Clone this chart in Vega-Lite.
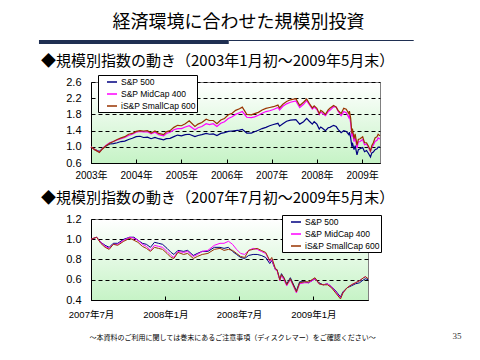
{
  "$schema": "https://vega.github.io/schema/vega-lite/v6.json",
  "padding": {"left": 36, "top": 14, "right": 0, "bottom": 0},
  "background": "white",
  "spacing": 9,
  "resolve": {"scale": {"color": "independent"}, "legend": {"color": "independent"}},
  "config": {
    "font": "Liberation Sans, Noto Sans CJK JP",
    "view": {"stroke": "#808080", "strokeWidth": 1},
    "axis": {"domainColor": "black", "labelColor": "black", "tickColor": "black", "labelFont": "Liberation Sans, Noto Sans CJK JP"},
    "title": {"font": "Noto Sans CJK JP", "color": "black", "fontWeight": "normal"},
    "legend": {"labelFont": "Liberation Sans", "labelColor": "black"}
  },
  "vconcat": [
    {
      "width": 289,
      "height": 4,
      "view": {"stroke": null},
      "title": {"text": "経済環境に合わせた規模別投資", "fontSize": 18, "anchor": "middle", "frame": "group", "offset": 4, "dx": 3},
      "data": {"values": [{"k": 1}]},
      "layer": [
        {
          "mark": {"type": "rule", "color": "#1f2f52", "strokeWidth": 4},
          "encoding": {
            "x": {"datum": -54, "type": "quantitative", "scale": {"domain": [0, 289]}, "axis": null},
            "x2": {"datum": 143},
            "y": {"datum": -2, "type": "quantitative", "scale": {"domain": [0, 4]}, "axis": null}
          }
        },
        {
          "mark": {"type": "rule", "color": "#1f2f52", "strokeWidth": 1},
          "encoding": {
            "x": {"datum": 143, "type": "quantitative", "axis": null},
            "x2": {"datum": 335},
            "y": {"datum": -0.5, "type": "quantitative", "axis": null}
          }
        }
      ]
    },
    {
      "width": 289,
      "height": 81,
      "view": {"stroke": "#808080", "fill": {"gradient": "linear", "x1": 0, "y1": 0, "x2": 0, "y2": 1, "stops": [{"offset": 0, "color": "#ffffff"}, {"offset": 1, "color": "#c6f3c6"}]}},
      "title": {"text": "◆規模別指数の動き（2003年1月初～2009年5月末）", "fontSize": 15, "anchor": "start", "frame": "group", "dx": -50, "offset": 5.5},
      "data": {"values": [
        {"date": "2003-01-01", "S&P 500": 1.00, "S&P MidCap 400": 1.00, "iS&P SmallCap 600": 1.00},
        {"date": "2003-02-01", "S&P 500": 0.93, "S&P MidCap 400": 0.93, "iS&P SmallCap 600": 0.93},
        {"date": "2003-03-10", "S&P 500": 0.88, "S&P MidCap 400": 0.87, "iS&P SmallCap 600": 0.86},
        {"date": "2003-04-01", "S&P 500": 0.95, "S&P MidCap 400": 0.95, "iS&P SmallCap 600": 0.94},
        {"date": "2003-05-01", "S&P 500": 1.02, "S&P MidCap 400": 1.03, "iS&P SmallCap 600": 1.02},
        {"date": "2003-06-01", "S&P 500": 1.07, "S&P MidCap 400": 1.10, "iS&P SmallCap 600": 1.09},
        {"date": "2003-07-01", "S&P 500": 1.08, "S&P MidCap 400": 1.13, "iS&P SmallCap 600": 1.13},
        {"date": "2003-08-01", "S&P 500": 1.10, "S&P MidCap 400": 1.17, "iS&P SmallCap 600": 1.18},
        {"date": "2003-09-01", "S&P 500": 1.13, "S&P MidCap 400": 1.20, "iS&P SmallCap 600": 1.22},
        {"date": "2003-10-01", "S&P 500": 1.14, "S&P MidCap 400": 1.23, "iS&P SmallCap 600": 1.25},
        {"date": "2003-11-01", "S&P 500": 1.18, "S&P MidCap 400": 1.28, "iS&P SmallCap 600": 1.31},
        {"date": "2003-12-01", "S&P 500": 1.21, "S&P MidCap 400": 1.31, "iS&P SmallCap 600": 1.33},
        {"date": "2004-01-01", "S&P 500": 1.25, "S&P MidCap 400": 1.36, "iS&P SmallCap 600": 1.38},
        {"date": "2004-02-01", "S&P 500": 1.26, "S&P MidCap 400": 1.38, "iS&P SmallCap 600": 1.40},
        {"date": "2004-03-01", "S&P 500": 1.23, "S&P MidCap 400": 1.37, "iS&P SmallCap 600": 1.39},
        {"date": "2004-04-01", "S&P 500": 1.24, "S&P MidCap 400": 1.37, "iS&P SmallCap 600": 1.40},
        {"date": "2004-05-01", "S&P 500": 1.20, "S&P MidCap 400": 1.32, "iS&P SmallCap 600": 1.34},
        {"date": "2004-06-01", "S&P 500": 1.23, "S&P MidCap 400": 1.36, "iS&P SmallCap 600": 1.39},
        {"date": "2004-07-01", "S&P 500": 1.20, "S&P MidCap 400": 1.30, "iS&P SmallCap 600": 1.33},
        {"date": "2004-08-10", "S&P 500": 1.17, "S&P MidCap 400": 1.27, "iS&P SmallCap 600": 1.30},
        {"date": "2004-09-01", "S&P 500": 1.20, "S&P MidCap 400": 1.33, "iS&P SmallCap 600": 1.37},
        {"date": "2004-10-01", "S&P 500": 1.21, "S&P MidCap 400": 1.36, "iS&P SmallCap 600": 1.40},
        {"date": "2004-11-01", "S&P 500": 1.25, "S&P MidCap 400": 1.42, "iS&P SmallCap 600": 1.48},
        {"date": "2004-12-01", "S&P 500": 1.29, "S&P MidCap 400": 1.45, "iS&P SmallCap 600": 1.53},
        {"date": "2005-01-01", "S&P 500": 1.27, "S&P MidCap 400": 1.45, "iS&P SmallCap 600": 1.52},
        {"date": "2005-02-01", "S&P 500": 1.30, "S&P MidCap 400": 1.49, "iS&P SmallCap 600": 1.57},
        {"date": "2005-03-05", "S&P 500": 1.31, "S&P MidCap 400": 1.52, "iS&P SmallCap 600": 1.64},
        {"date": "2005-04-20", "S&P 500": 1.25, "S&P MidCap 400": 1.42, "iS&P SmallCap 600": 1.50},
        {"date": "2005-05-15", "S&P 500": 1.28, "S&P MidCap 400": 1.47, "iS&P SmallCap 600": 1.56},
        {"date": "2005-06-15", "S&P 500": 1.30, "S&P MidCap 400": 1.50, "iS&P SmallCap 600": 1.60},
        {"date": "2005-07-20", "S&P 500": 1.33, "S&P MidCap 400": 1.57, "iS&P SmallCap 600": 1.68},
        {"date": "2005-08-15", "S&P 500": 1.31, "S&P MidCap 400": 1.55, "iS&P SmallCap 600": 1.65},
        {"date": "2005-09-15", "S&P 500": 1.32, "S&P MidCap 400": 1.57, "iS&P SmallCap 600": 1.65},
        {"date": "2005-10-15", "S&P 500": 1.28, "S&P MidCap 400": 1.50, "iS&P SmallCap 600": 1.57},
        {"date": "2005-11-15", "S&P 500": 1.33, "S&P MidCap 400": 1.58, "iS&P SmallCap 600": 1.66},
        {"date": "2005-12-15", "S&P 500": 1.35, "S&P MidCap 400": 1.62, "iS&P SmallCap 600": 1.70},
        {"date": "2006-01-15", "S&P 500": 1.38, "S&P MidCap 400": 1.70, "iS&P SmallCap 600": 1.79},
        {"date": "2006-02-15", "S&P 500": 1.39, "S&P MidCap 400": 1.74, "iS&P SmallCap 600": 1.83},
        {"date": "2006-03-15", "S&P 500": 1.40, "S&P MidCap 400": 1.80, "iS&P SmallCap 600": 1.90},
        {"date": "2006-04-15", "S&P 500": 1.41, "S&P MidCap 400": 1.84, "iS&P SmallCap 600": 1.94},
        {"date": "2006-05-08", "S&P 500": 1.43, "S&P MidCap 400": 1.87, "iS&P SmallCap 600": 1.98},
        {"date": "2006-06-13", "S&P 500": 1.34, "S&P MidCap 400": 1.73, "iS&P SmallCap 600": 1.80},
        {"date": "2006-07-20", "S&P 500": 1.34, "S&P MidCap 400": 1.72, "iS&P SmallCap 600": 1.79},
        {"date": "2006-08-15", "S&P 500": 1.37, "S&P MidCap 400": 1.74, "iS&P SmallCap 600": 1.82},
        {"date": "2006-09-15", "S&P 500": 1.41, "S&P MidCap 400": 1.78, "iS&P SmallCap 600": 1.85},
        {"date": "2006-10-15", "S&P 500": 1.45, "S&P MidCap 400": 1.83, "iS&P SmallCap 600": 1.91},
        {"date": "2006-11-15", "S&P 500": 1.48, "S&P MidCap 400": 1.87, "iS&P SmallCap 600": 1.95},
        {"date": "2006-12-15", "S&P 500": 1.52, "S&P MidCap 400": 1.89, "iS&P SmallCap 600": 1.97},
        {"date": "2007-01-15", "S&P 500": 1.55, "S&P MidCap 400": 1.92, "iS&P SmallCap 600": 1.99},
        {"date": "2007-02-20", "S&P 500": 1.58, "S&P MidCap 400": 1.97, "iS&P SmallCap 600": 2.03},
        {"date": "2007-03-05", "S&P 500": 1.51, "S&P MidCap 400": 1.91, "iS&P SmallCap 600": 1.96},
        {"date": "2007-04-01", "S&P 500": 1.57, "S&P MidCap 400": 2.00, "iS&P SmallCap 600": 2.05},
        {"date": "2007-05-01", "S&P 500": 1.63, "S&P MidCap 400": 2.06, "iS&P SmallCap 600": 2.12},
        {"date": "2007-06-01", "S&P 500": 1.66, "S&P MidCap 400": 2.10, "iS&P SmallCap 600": 2.16},
        {"date": "2007-07-15", "S&P 500": 1.67, "S&P MidCap 400": 2.13, "iS&P SmallCap 600": 2.19},
        {"date": "2007-08-15", "S&P 500": 1.56, "S&P MidCap 400": 1.97, "iS&P SmallCap 600": 2.02},
        {"date": "2007-09-15", "S&P 500": 1.62, "S&P MidCap 400": 2.05, "iS&P SmallCap 600": 2.10},
        {"date": "2007-10-10", "S&P 500": 1.70, "S&P MidCap 400": 2.14, "iS&P SmallCap 600": 2.18},
        {"date": "2007-11-01", "S&P 500": 1.63, "S&P MidCap 400": 2.04, "iS&P SmallCap 600": 2.07},
        {"date": "2007-11-25", "S&P 500": 1.56, "S&P MidCap 400": 1.93, "iS&P SmallCap 600": 1.96},
        {"date": "2007-12-10", "S&P 500": 1.62, "S&P MidCap 400": 1.98, "iS&P SmallCap 600": 2.01},
        {"date": "2008-01-01", "S&P 500": 1.56, "S&P MidCap 400": 1.92, "iS&P SmallCap 600": 1.95},
        {"date": "2008-01-20", "S&P 500": 1.44, "S&P MidCap 400": 1.80, "iS&P SmallCap 600": 1.82},
        {"date": "2008-02-01", "S&P 500": 1.49, "S&P MidCap 400": 1.86, "iS&P SmallCap 600": 1.90},
        {"date": "2008-02-15", "S&P 500": 1.46, "S&P MidCap 400": 1.83, "iS&P SmallCap 600": 1.87},
        {"date": "2008-03-10", "S&P 500": 1.40, "S&P MidCap 400": 1.77, "iS&P SmallCap 600": 1.80},
        {"date": "2008-04-01", "S&P 500": 1.47, "S&P MidCap 400": 1.87, "iS&P SmallCap 600": 1.91},
        {"date": "2008-04-15", "S&P 500": 1.48, "S&P MidCap 400": 1.90, "iS&P SmallCap 600": 1.95},
        {"date": "2008-05-15", "S&P 500": 1.53, "S&P MidCap 400": 1.99, "iS&P SmallCap 600": 2.02},
        {"date": "2008-06-05", "S&P 500": 1.50, "S&P MidCap 400": 1.98, "iS&P SmallCap 600": 1.98},
        {"date": "2008-06-20", "S&P 500": 1.43, "S&P MidCap 400": 1.88, "iS&P SmallCap 600": 1.90},
        {"date": "2008-07-15", "S&P 500": 1.35, "S&P MidCap 400": 1.77, "iS&P SmallCap 600": 1.82},
        {"date": "2008-08-05", "S&P 500": 1.40, "S&P MidCap 400": 1.87, "iS&P SmallCap 600": 1.95},
        {"date": "2008-08-25", "S&P 500": 1.38, "S&P MidCap 400": 1.84, "iS&P SmallCap 600": 1.93},
        {"date": "2008-09-15", "S&P 500": 1.30, "S&P MidCap 400": 1.72, "iS&P SmallCap 600": 1.82},
        {"date": "2008-09-20", "S&P 500": 1.36, "S&P MidCap 400": 1.78, "iS&P SmallCap 600": 1.88},
        {"date": "2008-09-30", "S&P 500": 1.22, "S&P MidCap 400": 1.58, "iS&P SmallCap 600": 1.70},
        {"date": "2008-10-10", "S&P 500": 1.00, "S&P MidCap 400": 1.25, "iS&P SmallCap 600": 1.33},
        {"date": "2008-10-14", "S&P 500": 1.10, "S&P MidCap 400": 1.36, "iS&P SmallCap 600": 1.45},
        {"date": "2008-10-27", "S&P 500": 0.93, "S&P MidCap 400": 1.13, "iS&P SmallCap 600": 1.20},
        {"date": "2008-11-05", "S&P 500": 1.03, "S&P MidCap 400": 1.25, "iS&P SmallCap 600": 1.32},
        {"date": "2008-11-20", "S&P 500": 0.80, "S&P MidCap 400": 0.97, "iS&P SmallCap 600": 1.04},
        {"date": "2008-12-01", "S&P 500": 0.93, "S&P MidCap 400": 1.12, "iS&P SmallCap 600": 1.18},
        {"date": "2008-12-15", "S&P 500": 0.95, "S&P MidCap 400": 1.13, "iS&P SmallCap 600": 1.20},
        {"date": "2009-01-05", "S&P 500": 0.98, "S&P MidCap 400": 1.18, "iS&P SmallCap 600": 1.25},
        {"date": "2009-01-20", "S&P 500": 0.88, "S&P MidCap 400": 1.05, "iS&P SmallCap 600": 1.10},
        {"date": "2009-02-05", "S&P 500": 0.91, "S&P MidCap 400": 1.07, "iS&P SmallCap 600": 1.10},
        {"date": "2009-02-20", "S&P 500": 0.84, "S&P MidCap 400": 0.99, "iS&P SmallCap 600": 1.02},
        {"date": "2009-03-09", "S&P 500": 0.75, "S&P MidCap 400": 0.88, "iS&P SmallCap 600": 0.90},
        {"date": "2009-03-20", "S&P 500": 0.85, "S&P MidCap 400": 0.99, "iS&P SmallCap 600": 1.03},
        {"date": "2009-04-01", "S&P 500": 0.87, "S&P MidCap 400": 1.04, "iS&P SmallCap 600": 1.10},
        {"date": "2009-04-15", "S&P 500": 0.93, "S&P MidCap 400": 1.13, "iS&P SmallCap 600": 1.22},
        {"date": "2009-05-01", "S&P 500": 0.95, "S&P MidCap 400": 1.16, "iS&P SmallCap 600": 1.25},
        {"date": "2009-05-10", "S&P 500": 0.99, "S&P MidCap 400": 1.22, "iS&P SmallCap 600": 1.31},
        {"date": "2009-05-25", "S&P 500": 0.99, "S&P MidCap 400": 1.19, "iS&P SmallCap 600": 1.27}
      ]},
      "transform": [{"fold": ["S&P 500", "S&P MidCap 400", "iS&P SmallCap 600"], "as": ["series", "value"]}],
      "mark": {"type": "line", "strokeWidth": 1.2},
      "encoding": {
        "x": {
          "field": "date", "type": "temporal",
          "scale": {"domain": [{"year": 2003, "month": 1, "date": 1}, {"year": 2009, "month": 5, "date": 25}]},
          "axis": {
            "title": null, "format": "%Y年", "labelFontSize": 10, "tickSize": -4, "labelPadding": 11, "grid": false, "labelOverlap": false, "labelFlush": false,
            "values": [{"year": 2003, "month": 1, "date": 1}, {"year": 2004, "month": 1, "date": 1}, {"year": 2005, "month": 1, "date": 1}, {"year": 2006, "month": 1, "date": 1}, {"year": 2007, "month": 1, "date": 1}, {"year": 2008, "month": 1, "date": 1}, {"year": 2009, "month": 1, "date": 1}]
          }
        },
        "y": {
          "field": "value", "type": "quantitative",
          "scale": {"domain": [0.6, 2.6]},
          "axis": {"title": null, "values": [0.6, 1.0, 1.4, 1.8, 2.2, 2.6], "format": ".1f", "labelFontSize": 11, "tickSize": 0, "labelPadding": 10, "grid": true, "gridColor": "black", "gridDash": [4, 3], "gridWidth": 1}
        },
        "color": {
          "field": "series", "type": "nominal",
          "scale": {"domain": ["S&P 500", "S&P MidCap 400", "iS&P SmallCap 600"], "range": ["#000080", "#ff00ff", "#993300"]},
          "legend": {"title": null, "orient": "none", "legendX": 7, "legendY": -7, "symbolType": "stroke", "symbolSize": 100, "symbolStrokeWidth": 1.5, "labelFontSize": 8.5, "padding": 1, "rowPadding": 1, "strokeColor": "black", "fillColor": "white", "symbolOffset": 7, "labelOffset": 3}
        }
      }
    },
    {
      "width": 277,
      "height": 81,
      "view": {"stroke": "#808080", "fill": {"gradient": "linear", "x1": 0, "y1": 0, "x2": 0, "y2": 1, "stops": [{"offset": 0, "color": "#ffffff"}, {"offset": 1, "color": "#c6f3c6"}]}},
      "title": {"text": "◆規模別指数の動き（2007年7月初～2009年5月末）", "fontSize": 15, "anchor": "start", "frame": "group", "dx": -50, "offset": 7},
      "data": {"values": [
        {"date": "2007-07-01", "S&P 500": 1.00, "S&P MidCap 400": 1.00, "iS&P SmallCap 600": 1.00},
        {"date": "2007-07-15", "S&P 500": 1.02, "S&P MidCap 400": 1.02, "iS&P SmallCap 600": 1.02},
        {"date": "2007-07-25", "S&P 500": 0.97, "S&P MidCap 400": 0.97, "iS&P SmallCap 600": 0.96},
        {"date": "2007-08-05", "S&P 500": 0.94, "S&P MidCap 400": 0.93, "iS&P SmallCap 600": 0.92},
        {"date": "2007-08-15", "S&P 500": 0.92, "S&P MidCap 400": 0.91, "iS&P SmallCap 600": 0.90},
        {"date": "2007-08-25", "S&P 500": 0.96, "S&P MidCap 400": 0.95, "iS&P SmallCap 600": 0.95},
        {"date": "2007-09-05", "S&P 500": 0.96, "S&P MidCap 400": 0.95, "iS&P SmallCap 600": 0.94},
        {"date": "2007-09-20", "S&P 500": 1.00, "S&P MidCap 400": 0.99, "iS&P SmallCap 600": 0.98},
        {"date": "2007-10-05", "S&P 500": 1.02, "S&P MidCap 400": 1.02, "iS&P SmallCap 600": 1.01},
        {"date": "2007-10-15", "S&P 500": 1.02, "S&P MidCap 400": 1.01, "iS&P SmallCap 600": 0.99},
        {"date": "2007-10-25", "S&P 500": 0.99, "S&P MidCap 400": 0.99, "iS&P SmallCap 600": 0.97},
        {"date": "2007-11-05", "S&P 500": 0.96, "S&P MidCap 400": 0.95, "iS&P SmallCap 600": 0.93},
        {"date": "2007-11-15", "S&P 500": 0.95, "S&P MidCap 400": 0.93, "iS&P SmallCap 600": 0.91},
        {"date": "2007-11-25", "S&P 500": 0.92, "S&P MidCap 400": 0.89, "iS&P SmallCap 600": 0.88},
        {"date": "2007-12-05", "S&P 500": 0.97, "S&P MidCap 400": 0.94, "iS&P SmallCap 600": 0.92},
        {"date": "2007-12-15", "S&P 500": 0.96, "S&P MidCap 400": 0.93, "iS&P SmallCap 600": 0.91},
        {"date": "2007-12-25", "S&P 500": 0.95, "S&P MidCap 400": 0.92, "iS&P SmallCap 600": 0.90},
        {"date": "2008-01-05", "S&P 500": 0.91, "S&P MidCap 400": 0.88, "iS&P SmallCap 600": 0.86},
        {"date": "2008-01-15", "S&P 500": 0.87, "S&P MidCap 400": 0.84, "iS&P SmallCap 600": 0.82},
        {"date": "2008-01-22", "S&P 500": 0.85, "S&P MidCap 400": 0.82, "iS&P SmallCap 600": 0.81},
        {"date": "2008-02-01", "S&P 500": 0.89, "S&P MidCap 400": 0.88, "iS&P SmallCap 600": 0.87},
        {"date": "2008-02-15", "S&P 500": 0.88, "S&P MidCap 400": 0.87, "iS&P SmallCap 600": 0.85},
        {"date": "2008-02-25", "S&P 500": 0.89, "S&P MidCap 400": 0.88, "iS&P SmallCap 600": 0.86},
        {"date": "2008-03-10", "S&P 500": 0.84, "S&P MidCap 400": 0.83, "iS&P SmallCap 600": 0.81},
        {"date": "2008-03-20", "S&P 500": 0.86, "S&P MidCap 400": 0.85, "iS&P SmallCap 600": 0.83},
        {"date": "2008-04-01", "S&P 500": 0.88, "S&P MidCap 400": 0.88, "iS&P SmallCap 600": 0.85},
        {"date": "2008-04-15", "S&P 500": 0.88, "S&P MidCap 400": 0.89, "iS&P SmallCap 600": 0.86},
        {"date": "2008-05-01", "S&P 500": 0.92, "S&P MidCap 400": 0.94, "iS&P SmallCap 600": 0.90},
        {"date": "2008-05-15", "S&P 500": 0.92, "S&P MidCap 400": 0.96, "iS&P SmallCap 600": 0.91},
        {"date": "2008-05-25", "S&P 500": 0.91, "S&P MidCap 400": 0.96, "iS&P SmallCap 600": 0.89},
        {"date": "2008-06-05", "S&P 500": 0.92, "S&P MidCap 400": 0.98, "iS&P SmallCap 600": 0.90},
        {"date": "2008-06-15", "S&P 500": 0.88, "S&P MidCap 400": 0.95, "iS&P SmallCap 600": 0.89},
        {"date": "2008-06-25", "S&P 500": 0.85, "S&P MidCap 400": 0.90, "iS&P SmallCap 600": 0.86},
        {"date": "2008-07-05", "S&P 500": 0.82, "S&P MidCap 400": 0.86, "iS&P SmallCap 600": 0.83},
        {"date": "2008-07-15", "S&P 500": 0.81, "S&P MidCap 400": 0.85, "iS&P SmallCap 600": 0.82},
        {"date": "2008-07-25", "S&P 500": 0.84, "S&P MidCap 400": 0.89, "iS&P SmallCap 600": 0.89},
        {"date": "2008-08-05", "S&P 500": 0.85, "S&P MidCap 400": 0.91, "iS&P SmallCap 600": 0.90},
        {"date": "2008-08-15", "S&P 500": 0.85, "S&P MidCap 400": 0.90, "iS&P SmallCap 600": 0.91},
        {"date": "2008-08-25", "S&P 500": 0.84, "S&P MidCap 400": 0.88, "iS&P SmallCap 600": 0.89},
        {"date": "2008-09-05", "S&P 500": 0.82, "S&P MidCap 400": 0.86, "iS&P SmallCap 600": 0.87},
        {"date": "2008-09-15", "S&P 500": 0.76, "S&P MidCap 400": 0.78, "iS&P SmallCap 600": 0.79},
        {"date": "2008-09-20", "S&P 500": 0.79, "S&P MidCap 400": 0.80, "iS&P SmallCap 600": 0.82},
        {"date": "2008-09-29", "S&P 500": 0.70, "S&P MidCap 400": 0.70, "iS&P SmallCap 600": 0.71},
        {"date": "2008-10-03", "S&P 500": 0.70, "S&P MidCap 400": 0.69, "iS&P SmallCap 600": 0.70},
        {"date": "2008-10-10", "S&P 500": 0.60, "S&P MidCap 400": 0.59, "iS&P SmallCap 600": 0.60},
        {"date": "2008-10-14", "S&P 500": 0.66, "S&P MidCap 400": 0.64, "iS&P SmallCap 600": 0.65},
        {"date": "2008-10-20", "S&P 500": 0.62, "S&P MidCap 400": 0.60, "iS&P SmallCap 600": 0.62},
        {"date": "2008-10-27", "S&P 500": 0.56, "S&P MidCap 400": 0.54, "iS&P SmallCap 600": 0.55},
        {"date": "2008-11-05", "S&P 500": 0.62, "S&P MidCap 400": 0.60, "iS&P SmallCap 600": 0.61},
        {"date": "2008-11-20", "S&P 500": 0.49, "S&P MidCap 400": 0.47, "iS&P SmallCap 600": 0.48},
        {"date": "2008-11-28", "S&P 500": 0.58, "S&P MidCap 400": 0.56, "iS&P SmallCap 600": 0.57},
        {"date": "2008-12-10", "S&P 500": 0.58, "S&P MidCap 400": 0.57, "iS&P SmallCap 600": 0.58},
        {"date": "2008-12-20", "S&P 500": 0.57, "S&P MidCap 400": 0.57, "iS&P SmallCap 600": 0.58},
        {"date": "2009-01-05", "S&P 500": 0.61, "S&P MidCap 400": 0.61, "iS&P SmallCap 600": 0.62},
        {"date": "2009-01-15", "S&P 500": 0.57, "S&P MidCap 400": 0.56, "iS&P SmallCap 600": 0.56},
        {"date": "2009-01-25", "S&P 500": 0.55, "S&P MidCap 400": 0.55, "iS&P SmallCap 600": 0.55},
        {"date": "2009-02-05", "S&P 500": 0.56, "S&P MidCap 400": 0.56, "iS&P SmallCap 600": 0.55},
        {"date": "2009-02-15", "S&P 500": 0.53, "S&P MidCap 400": 0.53, "iS&P SmallCap 600": 0.52},
        {"date": "2009-02-25", "S&P 500": 0.49, "S&P MidCap 400": 0.48, "iS&P SmallCap 600": 0.47},
        {"date": "2009-03-09", "S&P 500": 0.43, "S&P MidCap 400": 0.42, "iS&P SmallCap 600": 0.41},
        {"date": "2009-03-15", "S&P 500": 0.48, "S&P MidCap 400": 0.47, "iS&P SmallCap 600": 0.47},
        {"date": "2009-03-25", "S&P 500": 0.52, "S&P MidCap 400": 0.52, "iS&P SmallCap 600": 0.52},
        {"date": "2009-04-05", "S&P 500": 0.54, "S&P MidCap 400": 0.55, "iS&P SmallCap 600": 0.55},
        {"date": "2009-04-15", "S&P 500": 0.56, "S&P MidCap 400": 0.57, "iS&P SmallCap 600": 0.57},
        {"date": "2009-04-25", "S&P 500": 0.57, "S&P MidCap 400": 0.59, "iS&P SmallCap 600": 0.59},
        {"date": "2009-05-05", "S&P 500": 0.60, "S&P MidCap 400": 0.62, "iS&P SmallCap 600": 0.62},
        {"date": "2009-05-10", "S&P 500": 0.61, "S&P MidCap 400": 0.63, "iS&P SmallCap 600": 0.63},
        {"date": "2009-05-16", "S&P 500": 0.60, "S&P MidCap 400": 0.61, "iS&P SmallCap 600": 0.61}
      ]},
      "transform": [{"fold": ["S&P 500", "S&P MidCap 400", "iS&P SmallCap 600"], "as": ["series", "value"]}],
      "mark": {"type": "line", "strokeWidth": 1},
      "encoding": {
        "x": {
          "field": "date", "type": "temporal",
          "scale": {"domain": [{"year": 2007, "month": 7, "date": 1}, {"year": 2009, "month": 5, "date": 16}]},
          "axis": {
            "title": null, "format": "%Y年%-m月", "labelFontSize": 9.5, "tickSize": -4, "labelPadding": 13.5, "grid": false, "labelOverlap": false, "labelFlush": false,
            "values": [{"year": 2007, "month": 7, "date": 1}, {"year": 2008, "month": 1, "date": 1}, {"year": 2008, "month": 7, "date": 1}, {"year": 2009, "month": 1, "date": 1}]
          }
        },
        "y": {
          "field": "value", "type": "quantitative",
          "scale": {"domain": [0.4, 1.2]},
          "axis": {"title": null, "values": [0.4, 0.6, 0.8, 1.0, 1.2], "format": ".1f", "labelFontSize": 11, "tickSize": 0, "labelPadding": 10, "grid": true, "gridColor": "black", "gridDash": [4, 3], "gridWidth": 1}
        },
        "color": {
          "field": "series", "type": "nominal",
          "scale": {"domain": ["S&P 500", "S&P MidCap 400", "iS&P SmallCap 600"], "range": ["#000080", "#ff00ff", "#993300"]},
          "legend": {"title": null, "orient": "none", "legendX": 191, "legendY": -4, "symbolType": "stroke", "symbolSize": 100, "symbolStrokeWidth": 1.5, "labelFontSize": 8.5, "padding": 1, "rowPadding": 1, "strokeColor": "black", "fillColor": "white", "symbolOffset": 7, "labelOffset": 3}
        }
      }
    },
    {
      "width": 289,
      "height": 8,
      "view": {"stroke": null},
      "data": {"values": [{"k": 1}]},
      "layer": [
        {
          "mark": {"type": "text", "fontSize": 7, "font": "Noto Sans CJK JP", "color": "black", "align": "center"},
          "encoding": {
            "x": {"datum": 147, "type": "quantitative", "scale": {"domain": [0, 289]}, "axis": null},
            "y": {"datum": -0.16, "type": "quantitative", "scale": {"domain": [0, 1]}, "axis": null},
            "text": {"value": "～本資料のご利用に関しては巻末にあるご注意事項（ディスクレマー）をご確認ください～"}
          }
        },
        {
          "mark": {"type": "text", "fontSize": 9, "font": "Liberation Serif", "color": "#333333", "align": "center"},
          "encoding": {
            "x": {"datum": 380, "type": "quantitative", "axis": null},
            "y": {"datum": 0.16, "type": "quantitative", "axis": null},
            "text": {"value": "35"}
          }
        }
      ]
    }
  ]
}
